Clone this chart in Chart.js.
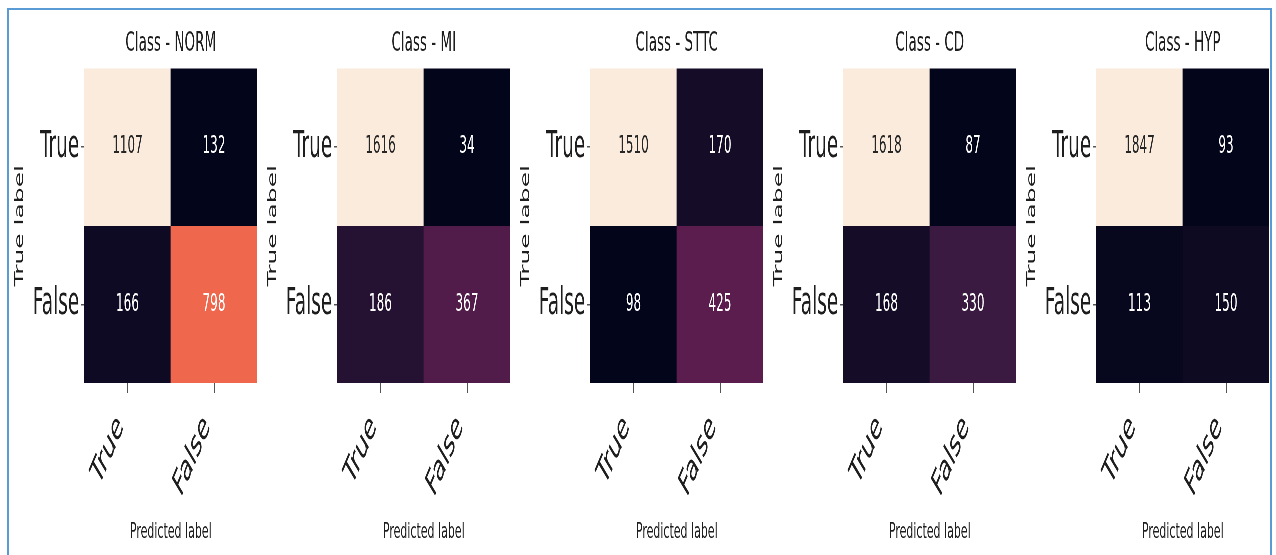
<!DOCTYPE html>
<html>
<head>
<meta charset="utf-8">
<script src="https://cdn.jsdelivr.net/npm/chart.js@4.4.1/dist/chart.umd.min.js"></script>
<style>
  html, body { margin: 0; padding: 0; background: #fff; overflow: hidden; }
  #frame { position: absolute; left: 7px; top: 8px; width: 1265px; height: 600px; border: 2px solid #5b9bd5; box-sizing: border-box; }
  /* panels are laid out twice as wide, then squeezed horizontally */
  #strip { position: absolute; left: 0; top: 0; width: 2552px; height: 555px; transform: scaleX(0.5); transform-origin: 0 0; }
  #strip canvas { position: absolute; top: 0; }
</style>
</head>
<body>
<div id="frame"></div>
<div id="strip"></div>
<script>
const classNames = ['NORM', 'MI', 'STTC', 'CD', 'HYP'];
const trueLabels = ['True', 'False'];
const predictedLabels = ['True', 'False'];

// rows = true label, columns = predicted label
const normCounts = [[1107, 132], [166, 798]];
const miCounts = [[1616, 34], [186, 367]];
const sttcCounts = [[1510, 170], [98, 425]];
const cdCounts = [[1618, 87], [168, 330]];
const hypCounts = [[1847, 93], [113, 150]];
const matrices = [normCounts, miCounts, sttcCounts, cdCounts, hypCounts];

// seaborn "rocket" colormap stops
const rocket = [
  [0.000, [3, 5, 26]],
  [0.143, [53, 25, 62]],
  [0.286, [112, 31, 87]],
  [0.429, [173, 23, 89]],
  [0.571, [225, 51, 66]],
  [0.714, [243, 118, 81]],
  [0.857, [246, 180, 143]],
  [1.000, [250, 235, 221]]
];

function rocketRgb(t) {
  t = Math.max(0, Math.min(1, t));
  for (let k = 1; k < rocket.length; k++) {
    const [t1, c1] = rocket[k];
    const [t0, c0] = rocket[k - 1];
    if (t <= t1) {
      const f = (t - t0) / (t1 - t0);
      return c0.map((v, j) => Math.round(v + (c1[j] - v) * f));
    }
  }
  return rocket[rocket.length - 1][1];
}

// same rule seaborn uses to pick annotation colour
function textOn(rgb) {
  const lin = rgb.map(v => {
    v /= 255;
    return v <= 0.03928 ? v / 12.92 : Math.pow((v + 0.055) / 1.055, 2.4);
  });
  const lum = 0.2126 * lin[0] + 0.7152 * lin[1] + 0.0722 * lin[2];
  return lum > 0.408 ? '#262626' : '#ffffff';
}

const FONT = 'DejaVu Sans';
const INK = '#1e1e1e';
const H = 555;
const AXIS_W = 150;
const PLOT_W = 346;
const PAD_R = 10;
const PLOT_BOTTOM = 383;
const plotLefts = [168, 674, 1180, 1686, 2192];

Chart.defaults.font.family = FONT;

const cellText = {
  id: 'cellText',
  afterDatasetsDraw(chart) {
    const ctx = chart.ctx;
    ctx.save();
    ctx.font = '24px "' + FONT + '"';
    ctx.textAlign = 'center';
    ctx.textBaseline = 'middle';
    chart.data.datasets.forEach((ds, d) => {
      chart.getDatasetMeta(d).data.forEach((bar, j) => {
        ctx.fillStyle = ds.textColors[j];
        ctx.fillText(String(ds.counts[j]), bar.x, (bar.y + bar.base) / 2);
      });
    });
    ctx.restore();
  }
};

const strip = document.getElementById('strip');

matrices.forEach((m, i) => {
  const all = m.flat();
  const lo = Math.min(...all);
  const hi = Math.max(...all);
  const n = trueLabels.length;

  const datasets = trueLabels.map((lab, r) => {
    const rgbs = m[r].map(v => rocketRgb((v - lo) / (hi - lo)));
    return {
      label: lab,
      data: predictedLabels.map(() => [n - 1 - r, n - r]),
      counts: m[r],
      backgroundColor: rgbs.map(c => 'rgb(' + c.join(',') + ')'),
      textColors: rgbs.map(textOn),
      borderWidth: 0,
      barPercentage: 1,
      categoryPercentage: 1,
      grouped: false
    };
  });

  const canvas = document.createElement('canvas');
  canvas.width = AXIS_W + PLOT_W + PAD_R;
  canvas.height = H;
  canvas.style.left = (plotLefts[i] - AXIS_W) + 'px';
  strip.appendChild(canvas);

  new Chart(canvas, {
    type: 'bar',
    data: { labels: predictedLabels, datasets },
    plugins: [cellText],
    options: {
      responsive: false,
      devicePixelRatio: 1,
      animation: false,
      events: [],
      layout: { padding: { left: 0, right: PAD_R, top: 0, bottom: 0 } },
      plugins: {
        legend: { display: false },
        tooltip: { enabled: false },
        title: {
          display: true,
          text: 'Class - ' + classNames[i],
          fullSize: false,
          color: INK,
          font: { family: FONT, size: 27, weight: 'normal' },
          padding: { top: 28, bottom: 8 }
        }
      },
      scales: {
        x: {
          offset: true,
          grid: { offset: false, drawOnChartArea: false, drawTicks: true, tickLength: 10, color: '#555', lineWidth: 2 },
          border: { display: false },
          ticks: {
            minRotation: 50,
            maxRotation: 50,
            padding: 22,
            labelOffset: -14,
            color: INK,
            font: { family: FONT, size: 37, lineHeight: 0.5 }
          },
          title: { display: true, text: 'Predicted label', color: INK, font: { family: FONT, size: 22 }, padding: { top: 0, bottom: 10 } },
          afterFit(s) { s.height = H - PLOT_BOTTOM; }
        },
        y: {
          type: 'linear',
          min: 0,
          max: n,
          afterBuildTicks(s) {
            s.ticks = trueLabels.map((_, r) => ({ value: n - r - 0.5 }));
          },
          grid: { drawOnChartArea: false, drawTicks: true, tickLength: 6, color: '#555', lineWidth: 1.5 },
          border: { display: false },
          ticks: {
            padding: 4,
            color: INK,
            font: { family: FONT, size: 37 },
            callback: v => trueLabels[n - 1 - Math.floor(v)]
          },
          title: { display: true, text: 'True label', color: INK, font: { family: FONT, size: 25 }, padding: { top: 6, bottom: 0 } },
          afterFit(s) { s.width = AXIS_W; }
        }
      }
    }
  });
});
</script>
</body>
</html>
